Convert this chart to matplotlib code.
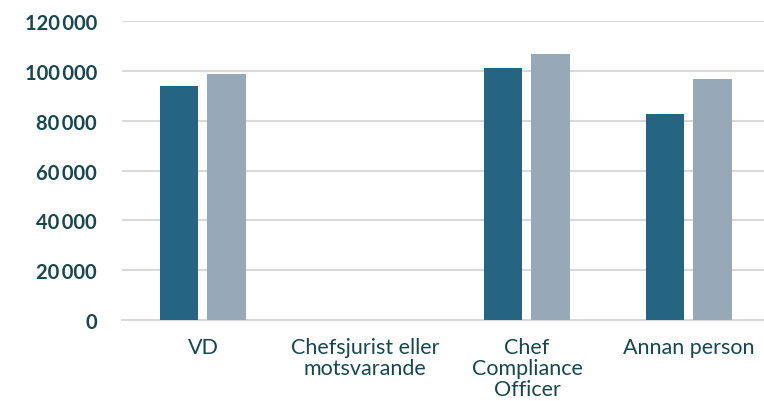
import matplotlib.pyplot as plt
import numpy as np

# Löner per roll, två serier
kategorier = ["VD", "Chefsjurist eller\nmotsvarande", "Chef\nCompliance\nOfficer", "Annan person"]
serie_1 = [94000, np.nan, 101000, 82700]
serie_2 = [98600, np.nan, 106600, 96800]
y_ticks = [0, 20000, 40000, 60000, 80000, 100000, 120000]

textfarg = "#17484f"
plt.rcParams["font.family"] = ["Lato", "DejaVu Sans"]

fig = plt.figure(figsize=(7.64, 4.02), dpi=100)
ax = fig.add_axes([122 / 764, 81 / 402, 648 / 764, 299 / 402])

x = np.arange(len(kategorier))
bredd = 0.235
ax.bar(x - 0.147, serie_1, width=bredd, color="#256482", zorder=3)
ax.bar(x + 0.145, serie_2, width=bredd, color="#97a9b8", zorder=3)

ax.set_xlim(-0.5, 3.5)
ax.set_ylim(0, 120000)
ax.set_yticks(y_ticks)
ax.set_yticklabels([f"{v:,}".replace(",", "\u2009") for v in y_ticks],
                   fontsize=14.5, fontweight="bold", color=textfarg)
ax.set_xticks(x)
ax.set_xticklabels(kategorier, fontsize=15.5, color=textfarg, linespacing=1.07)

ax.grid(axis="y", color="#d9d9d9", linewidth=1.5, zorder=0)
for s in ["top", "right", "left"]:
    ax.spines[s].set_visible(False)
ax.spines["bottom"].set_color("#d9d9d9")
ax.spines["bottom"].set_linewidth(1.5)
ax.tick_params(axis="y", length=0, pad=18)
ax.tick_params(axis="x", length=0, pad=12)

fig.savefig("out.png", dpi=100)
